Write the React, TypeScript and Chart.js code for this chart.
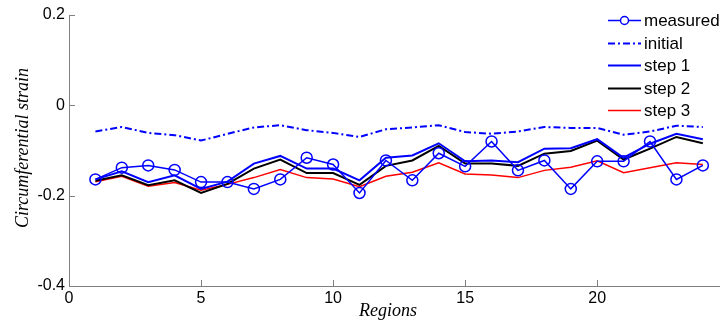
import React, { useEffect, useRef } from "react";
import { Chart, registerables } from "chart.js";

Chart.register(...registerables);

const regions = [1, 2, 3, 4, 5, 6, 7, 8, 9, 10, 11, 12, 13, 14, 15, 16, 17, 18, 19, 20, 21, 22, 23, 24];
const measured = [-0.164, -0.138, -0.133, -0.143, -0.170, -0.170, -0.185, -0.164, -0.116, -0.131, -0.194, -0.122, -0.166, -0.106, -0.135, -0.080, -0.144, -0.122, -0.185, -0.124, -0.124, -0.080, -0.164, -0.133];
const initial = [-0.058, -0.048, -0.061, -0.066, -0.078, -0.063, -0.049, -0.044, -0.055, -0.061, -0.070, -0.053, -0.049, -0.044, -0.059, -0.063, -0.058, -0.048, -0.050, -0.050, -0.065, -0.058, -0.045, -0.048];
const step1 = [-0.164, -0.146, -0.170, -0.155, -0.185, -0.169, -0.129, -0.112, -0.140, -0.140, -0.166, -0.116, -0.111, -0.084, -0.124, -0.122, -0.126, -0.096, -0.095, -0.075, -0.116, -0.085, -0.063, -0.075];
const step2 = [-0.167, -0.155, -0.177, -0.166, -0.194, -0.174, -0.140, -0.120, -0.150, -0.150, -0.176, -0.134, -0.122, -0.090, -0.129, -0.129, -0.134, -0.107, -0.101, -0.078, -0.120, -0.096, -0.070, -0.084];
const step3 = [-0.169, -0.157, -0.179, -0.171, -0.188, -0.175, -0.160, -0.142, -0.160, -0.163, -0.180, -0.157, -0.148, -0.127, -0.152, -0.154, -0.160, -0.144, -0.137, -0.123, -0.149, -0.138, -0.127, -0.131];
const xTicks = [0, 5, 10, 15, 20];
const yTicks = [-0.4, -0.2, 0, 0.2];

const toPts = (vals: number[]) => regions.map((r, i) => ({ x: r, y: vals[i] }));

const AXIS_COLOR = "#808080";

const overlay = {
  id: "overlay",
  afterDraw(chart: any) {
    const ctx = chart.ctx;
    const xs = chart.scales.x;
    const ys = chart.scales.y;
    const ca = chart.chartArea;
    ctx.save();
    // inward tick marks
    ctx.strokeStyle = AXIS_COLOR;
    ctx.lineWidth = 1;
    ctx.beginPath();
    xTicks.forEach((v) => {
      const px = Math.round(xs.getPixelForValue(v)) + 0.5;
      ctx.moveTo(px, ca.bottom);
      ctx.lineTo(px, ca.bottom - 6);
    });
    yTicks.forEach((v) => {
      const py = Math.round(ys.getPixelForValue(v)) + 0.5;
      ctx.moveTo(ca.left, py);
      ctx.lineTo(ca.left + 6, py);
    });
    ctx.stroke();

    // axis titles
    ctx.fillStyle = "#000";
    ctx.font = "italic 18px 'Liberation Serif', 'Times New Roman', serif";
    ctx.textAlign = "center";
    ctx.textBaseline = "alphabetic";
    ctx.fillText("Regions", 388, 316);
    ctx.save();
    ctx.translate(28, 148);
    ctx.rotate(-Math.PI / 2);
    ctx.fillText("Circumferential strain", 0, 0);
    ctx.restore();

    // legend
    const rows = [20, 43, 65, 88, 110];
    const x0 = 608;
    const x1 = 641;
    ctx.font = "17px 'Liberation Sans', Arial, sans-serif";
    ctx.textAlign = "left";
    ctx.textBaseline = "middle";
    chart.data.datasets.forEach((ds: any, i: number) => {
      const y = rows[i] + 0.5;
      ctx.save();
      ctx.strokeStyle = ds.borderColor;
      ctx.lineWidth = ds.borderWidth;
      ctx.setLineDash(ds.borderDash || []);
      ctx.beginPath();
      ctx.moveTo(x0, y);
      ctx.lineTo(x1, y);
      ctx.stroke();
      ctx.setLineDash([]);
      if (ds.pointRadius > 0) {
        ctx.beginPath();
        ctx.arc((x0 + x1) / 2, y, 4, 0, Math.PI * 2);
        ctx.fillStyle = "#fff";
        ctx.fill();
        ctx.stroke();
      }
      ctx.restore();
      ctx.fillStyle = "#000";
      ctx.fillText(ds.label, 644, rows[i] + 1);
    });
    ctx.restore();
  },
};

export default function App() {
  const ref = useRef<HTMLCanvasElement | null>(null);
  useEffect(() => {
    document.body.style.margin = "0";
    const canvas = ref.current;
    if (!canvas) return;
    const tickFont = { family: "'Liberation Sans', Arial, sans-serif", size: 16 };
    const chart = new Chart(canvas, {
      type: "line",
      data: {
        datasets: [
          {
            label: "measured",
            data: toPts(measured),
            borderColor: "#0000ff",
            borderWidth: 1.5,
            pointRadius: 5.5,
            pointBorderWidth: 1.5,
            pointBackgroundColor: "rgba(0,0,0,0)",
            pointBorderColor: "#0000ff",
            order: 0,
          },
          {
            label: "initial",
            data: toPts(initial),
            borderColor: "#0000ff",
            borderWidth: 2,
            borderDash: [7, 3, 2, 3],
            pointRadius: 0,
            order: 1,
          },
          {
            label: "step 1",
            data: toPts(step1),
            borderColor: "#0000ff",
            borderWidth: 2,
            pointRadius: 0,
            order: 2,
          },
          {
            label: "step 2",
            data: toPts(step2),
            borderColor: "#000000",
            borderWidth: 2,
            pointRadius: 0,
            order: 3,
          },
          {
            label: "step 3",
            data: toPts(step3),
            borderColor: "#ff0000",
            borderWidth: 1.5,
            pointRadius: 0,
            order: 4,
          },
        ] as any,
      },
      options: {
        responsive: false,
        animation: false,
        devicePixelRatio: 1,
        layout: { autoPadding: false, padding: { top: 15, right: 0, left: 0, bottom: 0 } },
        plugins: { legend: { display: false }, tooltip: { enabled: false } },
        elements: { line: { tension: 0 } },
        scales: {
          x: {
            type: "linear",
            min: 0,
            max: 24.65,
            afterBuildTicks: (s: any) => {
              s.ticks = xTicks.map((v) => ({ value: v }));
            },
            afterFit: (s: any) => {
              s.height = 35;
              s.paddingLeft = 0;
              s.paddingRight = 0;
            },
            grid: { display: false, drawTicks: false },
            border: { display: true, color: AXIS_COLOR, width: 1 },
            ticks: {
              font: tickFont,
              color: "#000",
              padding: 3,
              maxRotation: 0,
              autoSkip: false,
              callback: (v: any) => String(v),
            },
          },
          y: {
            type: "linear",
            min: -0.4,
            max: 0.2,
            afterBuildTicks: (s: any) => {
              s.ticks = yTicks.map((v) => ({ value: v }));
            },
            afterFit: (s: any) => {
              s.width = 69;
            },
            grid: { display: false, drawTicks: false },
            border: { display: true, color: AXIS_COLOR, width: 1 },
            ticks: {
              font: tickFont,
              color: "#000",
              padding: 4,
              callback: (v: any) => {
                const r = Math.round(Number(v) * 10) / 10;
                return r === 0 ? "0" : String(r);
              },
            },
          },
        },
      } as any,
      plugins: [overlay],
    });
    return () => chart.destroy();
  }, []);
  return (
    <div style={{ width: 720, height: 321, background: "#fff" }}>
      <canvas ref={ref} width={720} height={321} style={{ display: "block" }} />
    </div>
  );
}
